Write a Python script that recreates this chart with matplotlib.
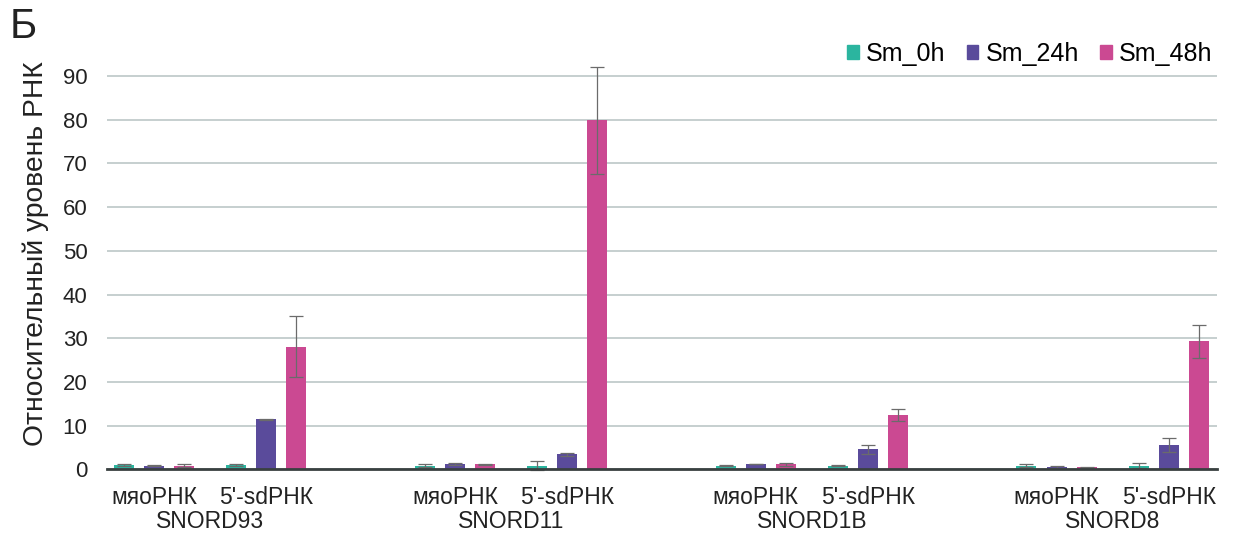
import numpy as np
import matplotlib
matplotlib.use("Agg")
import matplotlib.pyplot as plt
from matplotlib.patches import Patch
from matplotlib.transforms import blended_transform_factory

plt.rcParams['font.family'] = ['Liberation Sans', 'DejaVu Sans']

# data
genes = ["SNORD93", "SNORD11", "SNORD1B", "SNORD8"]
kinds = ["мяоРНК", "5'-sdРНК"]
series = ["Sm_0h", "Sm_24h", "Sm_48h"]
colors = ["#2bb59f", "#5a4b9b", "#cb4992"]

# values per gene: [myo, sd]
sm_0h = [[1.0, 1.0], [0.9, 0.9], [0.9, 0.9], [0.9, 0.9]]
sm_24h = [[0.85, 11.5], [1.25, 3.5], [1.2, 4.6], [0.6, 5.6]]
sm_48h = [[0.9, 28.1], [1.2, 79.8], [1.2, 12.5], [0.5, 29.3]]
err_0h = [[0.3, 0.3], [0.3, 1.0], [0.2, 0.2], [0.3, 0.6]]
err_24h = [[0.1, 0.1], [0.3, 0.3], [0.05, 1.0], [0.3, 1.5]]
err_48h = [[0.3, 6.9], [0.1, 12.3], [0.3, 1.3], [0.1, 3.8]]

vals = [sm_0h, sm_24h, sm_48h]
errs = [err_0h, err_24h, err_48h]

fig = plt.figure(figsize=(12.35, 5.37), dpi=100)
ax = fig.add_axes([0.0866, 0.1257, 0.8988, 0.7737])

cat_x = []
for g in range(len(genes)):
    for k in range(len(kinds)):
        cat_x.append(g * 3.0 + k * 1.12)
cat_x = np.array(cat_x)

offsets = [-0.3, 0.0, 0.3]
for s in range(3):
    v = np.array(vals[s]).ravel()
    e = np.array(errs[s]).ravel()
    ax.bar(cat_x + offsets[s], v, width=0.2, color=colors[s], zorder=3,
           linewidth=0)
    ax.errorbar(cat_x + offsets[s], v, yerr=e, fmt="none", ecolor="#6b6b6b",
                elinewidth=0.9, capsize=5, capthick=0.9, zorder=4, clip_on=False)

ax.set_xlim(-0.47, 10.6)
ax.set_ylim(0, 95)
ax.set_yticks(range(0, 100, 10))
ax.tick_params(axis="y", length=0, labelsize=16, pad=14, labelcolor="#222222")
ax.grid(axis="y", color="#c6cfcf", linewidth=1.4, zorder=0)
ax.set_axisbelow(True)
for sp in ax.spines.values():
    sp.set_visible(False)
ax.axhline(0, color="#394040", linewidth=2.0, zorder=5, clip_on=False)

ax.set_xticks(cat_x)
ax.set_xticklabels(kinds * len(genes))
ax.tick_params(axis="x", length=0, labelsize=16.5, pad=12, labelcolor="#222222")

trans = blended_transform_factory(ax.transData, ax.transAxes)
for g, name in enumerate(genes):
    ax.text(g * 3.0 + 0.56, -0.124, name, transform=trans, ha="center",
            va="center", fontsize=16.5, color="#222222")

ax.set_ylabel("Относительный уровень РНК", fontsize=20.3, color="#222222")
ax.yaxis.set_label_coords(-0.052, 0.52)

fig.text(0.008, 0.95, "Б", fontsize=30, color="#222222", va="center", ha="left")

handles = [Patch(color=c, label=l) for c, l in zip(colors, series)]
fig.legend(handles=handles, loc="center right", bbox_to_anchor=(1.0, 0.900),
           ncol=3, frameon=False, fontsize=18, handlelength=0.45, handleheight=0.45,
           handletextpad=0.3, columnspacing=0.85)

fig.savefig("out.png", dpi=100)
